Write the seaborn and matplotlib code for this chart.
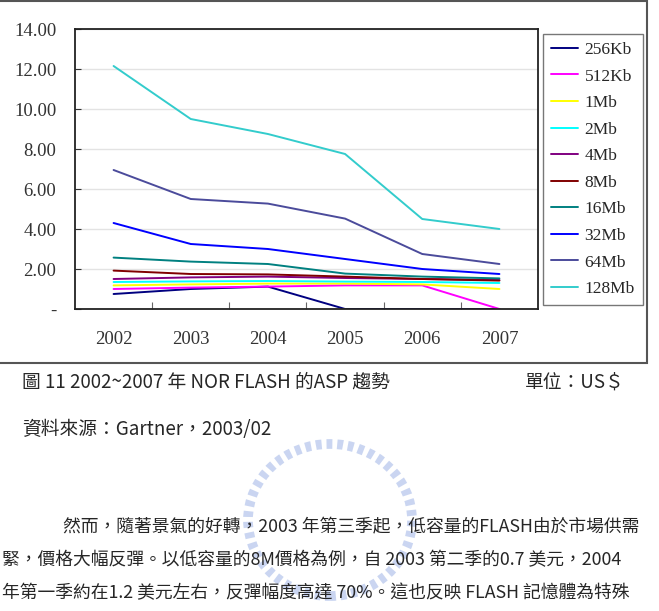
import pandas as pd
import matplotlib.pyplot as plt
import matplotlib.patches as mpatches
import seaborn as sns

years = ['2002', '2003', '2004', '2005', '2006', '2007']
sizes = ['256Kb', '512Kb', '1Mb', '2Mb', '4Mb', '8Mb', '16Mb', '32Mb', '64Mb', '128Mb']
asp_256kb = [0.75, 1.00, 1.12, 0.00, 0.00, 0.00]
asp_512kb = [1.00, 1.07, 1.12, 1.18, 1.18, 0.00]
asp_1mb = [1.18, 1.23, 1.27, 1.27, 1.23, 1.00]
asp_2mb = [1.35, 1.38, 1.40, 1.37, 1.35, 1.30]
asp_4mb = [1.50, 1.58, 1.62, 1.55, 1.50, 1.45]
asp_8mb = [1.92, 1.75, 1.73, 1.62, 1.50, 1.42]
asp_16mb = [2.57, 2.37, 2.25, 1.77, 1.62, 1.53]
asp_32mb = [4.30, 3.25, 3.00, 2.50, 2.00, 1.75]
asp_64mb = [6.95, 5.50, 5.27, 4.52, 2.75, 2.25]
asp_128mb = [12.15, 9.50, 8.75, 7.75, 4.50, 4.00]
colors = ['#000080', '#FF00FF', '#FFFF00', '#00FFFF', '#800080',
          '#800000', '#008080', '#0000FF', '#4B4B9B', '#33CCCC']
yticks = [0, 2, 4, 6, 8, 10, 12, 14]
ytick_labels = ['-', '2.00', '4.00', '6.00', '8.00', '10.00', '12.00', '14.00']

series = [asp_256kb, asp_512kb, asp_1mb, asp_2mb, asp_4mb,
          asp_8mb, asp_16mb, asp_32mb, asp_64mb, asp_128mb]
rows = []
for name, vals in zip(sizes, series):
    for i, v in enumerate(vals):
        rows.append({'pos': i, 'size': name, 'asp': v})
df = pd.DataFrame(rows)

sns.set_style('white')
plt.rcParams['font.family'] = ['Liberation Serif', 'DejaVu Serif']
cjk = ['Noto Sans CJK TC', 'DejaVu Sans']

fig = plt.figure(figsize=(6.59, 6.11), dpi=100)
W, H = 659, 611

# outer chart frame
fig.patches.append(mpatches.Rectangle((-2 / W, 1 - 363 / H), 649 / W, 362 / H,
                                      transform=fig.transFigure, fill=False,
                                      edgecolor='#555555', lw=1.5))

ax = fig.add_axes([75 / W, 1 - 309 / H, 463 / W, 280 / H])
sns.lineplot(data=df, x='pos', y='asp', hue='size', hue_order=sizes,
             palette=dict(zip(sizes, colors)), lw=1.4, ax=ax)

ax.set_xlim(-0.5, 5.5)
ax.set_ylim(0, 14)
ax.set_yticks(yticks)
ax.set_yticklabels(ytick_labels)
ax.set_xticks(range(len(years)))
ax.set_xticklabels(years)
ax.set_xticks([0.5, 1.5, 2.5, 3.5, 4.5], minor=True)
ax.tick_params(axis='x', which='major', length=0, pad=16, labelsize=13.5, colors='#333333')
ax.tick_params(axis='x', which='minor', direction='in', length=5, width=0.8, color='#666666', bottom=True)
ax.tick_params(axis='y', direction='in', length=4, width=0.8, left=True, pad=13.5,
               labelsize=13.5, colors='#333333')
ax.yaxis.grid(True, color='#e3e3e3', lw=1)
ax.set_axisbelow(True)
for s in ax.spines.values():
    s.set_color('#222222')
    s.set_linewidth(1.3)
ax.set_xlabel('')
ax.set_ylabel('')

handles, labels = ax.get_legend_handles_labels()
ax.legend(handles, labels, loc='upper left', bbox_to_anchor=(543 / W, 1 - 34 / H),
          bbox_transform=fig.transFigure, borderaxespad=0, fontsize=12.5, labelspacing=0.6,
          handlelength=1.55, handletextpad=0.4, borderpad=0.45,
          fancybox=False, framealpha=1, edgecolor='#777777')

# faint watermark ring
fig.patches.append(mpatches.Circle((330 / W, 1 - 520 / H), 82 / W, transform=fig.transFigure,
                                   fill=False, edgecolor='#9fb4e6', lw=7, ls=(0, (0.6, 0.5)),
                                   alpha=0.55, zorder=0))

fig.text(22 / W, 1 - 382 / H, '圖 11 2002~2007 年 NOR FLASH 的ASP 趨勢',
         family=cjk, fontsize=13.5, va='center', ha='left')
fig.text(625 / W, 1 - 382 / H, '單位：US＄', family=cjk, fontsize=13.5, va='center', ha='right')
fig.text(22 / W, 1 - 430 / H, '資料來源：Gartner，2003/02', family=cjk, fontsize=13.5,
         va='center', ha='left')
fig.text(63 / W, 1 - 527 / H, '然而，隨著景氣的好轉，2003 年第三季起，低容量的FLASH由於市場供需',
         family=cjk, fontsize=12.8, va='center', ha='left')
fig.text(2 / W, 1 - 560 / H, '緊，價格大幅反彈。以低容量的8M價格為例，自 2003 第二季的0.7 美元，2004',
         family=cjk, fontsize=12.8, va='center', ha='left')
fig.text(2 / W, 1 - 593 / H, '年第一季約在1.2 美元左右，反彈幅度高達 70%。這也反映 FLASH 記憶體為特殊',
         family=cjk, fontsize=12.8, va='center', ha='left')

fig.savefig('out.png', dpi=100)
